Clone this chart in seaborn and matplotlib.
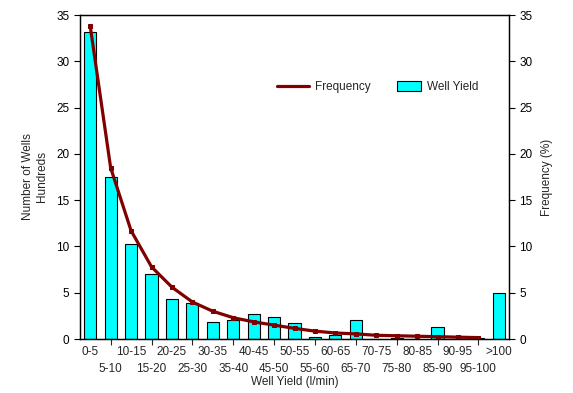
import numpy as np
import pandas as pd
import matplotlib
matplotlib.use("Agg")
import matplotlib.pyplot as plt
import seaborn as sns
from matplotlib.lines import Line2D
from matplotlib.patches import Patch

# ------------------------------------------------------------
# Data
# ------------------------------------------------------------
yield_classes = ["0-5", "5-10", "10-15", "15-20", "20-25", "25-30", "30-35",
                 "35-40", "40-45", "45-50", "50-55", "55-60", "60-65", "65-70",
                 "70-75", "75-80", "80-85", "85-90", "90-95", "95-100", ">100"]
wells_hundreds = [33.2, 17.5, 10.3, 7.0, 4.3, 3.85, 1.8, 2.1, 2.7, 2.35, 1.7,
                  0.2, 0.4, 2.1, 0.05, 0.15, 0.05, 1.3, 0.05, 0.1, 5.0]
frequency_pct = [33.8, 18.5, 11.7, 7.8, 5.6, 4.0, 3.0, 2.3, 1.85, 1.5, 1.15,
                 0.85, 0.65, 0.55, 0.4, 0.35, 0.3, 0.25, 0.2, 0.15]

df = pd.DataFrame({"cls": yield_classes, "wells": wells_hundreds})
freq_df = pd.DataFrame({"pos": np.arange(len(frequency_pct)), "freq": frequency_pct})

# ------------------------------------------------------------
# Plot
# ------------------------------------------------------------
sns.set_style("ticks")
plt.rcParams["font.family"] = ["Liberation Sans", "DejaVu Sans"]
plt.rcParams["font.size"] = 8.5

fig = plt.figure(figsize=(5.73, 3.93), dpi=100)
ax = fig.add_axes([80 / 573, 54 / 393, 429 / 573, 324 / 393])

sns.barplot(data=df, x="cls", y="wells", color="#00FFFF", edgecolor="black",
            linewidth=0.8, width=0.6, saturation=1, ax=ax)

ax2 = ax.twinx()
sns.lineplot(data=freq_df, x="pos", y="freq", color="#800000", linewidth=2.3,
             marker="s", markersize=3.5, markeredgecolor="#800000", ax=ax2)

for a in (ax, ax2):
    a.set_ylim(0, 35)
    a.set_yticks(range(0, 36, 5))
    for s in a.spines.values():
        s.set_visible(True)
        s.set_color("black")
        s.set_linewidth(0.9)
    a.tick_params(axis="y", length=4, width=0.8, colors="black", labelsize=8.5)
ax.set_xlim(-0.5, len(yield_classes) - 0.5)

# two-row category labels: even classes on the first row, odd ones below
pos = np.arange(len(yield_classes))
ax.set_xticks(pos[1::2])
ax.set_xticklabels(yield_classes[1::2], fontsize=8.5)
ax.set_xticks(pos[0::2], minor=True)
ax.set_xticklabels(yield_classes[0::2], minor=True, fontsize=8.5)
ax.tick_params(axis="x", which="major", length=4, width=0.8, pad=13)
ax.tick_params(axis="x", which="minor", length=0, pad=5)

ax.set_xlabel("Well Yield (l/min)", fontsize=8.5, labelpad=1)
ax.set_ylabel("Number of Wells\nHundreds", fontsize=8.5, labelpad=6)
ax2.set_ylabel("Frequency (%)", fontsize=8.5, labelpad=6)

fig.legend([Line2D([0], [0], color="#800000", linewidth=2.3)], ["Frequency"],
           loc="center left", bbox_to_anchor=(277 / 573, 1 - 87 / 393),
           frameon=False, fontsize=8.5, borderpad=0, borderaxespad=0,
           handlelength=2.7, handletextpad=0.55)
fig.legend([Patch(facecolor="#00FFFF", edgecolor="black", linewidth=0.8)],
           ["Well Yield"], loc="center left",
           bbox_to_anchor=(397 / 573, 1 - 87 / 393), frameon=False,
           fontsize=8.5, borderpad=0, borderaxespad=0, handlelength=2.0,
           handleheight=0.9, handletextpad=0.55)

fig.savefig("out.png", dpi=100)
